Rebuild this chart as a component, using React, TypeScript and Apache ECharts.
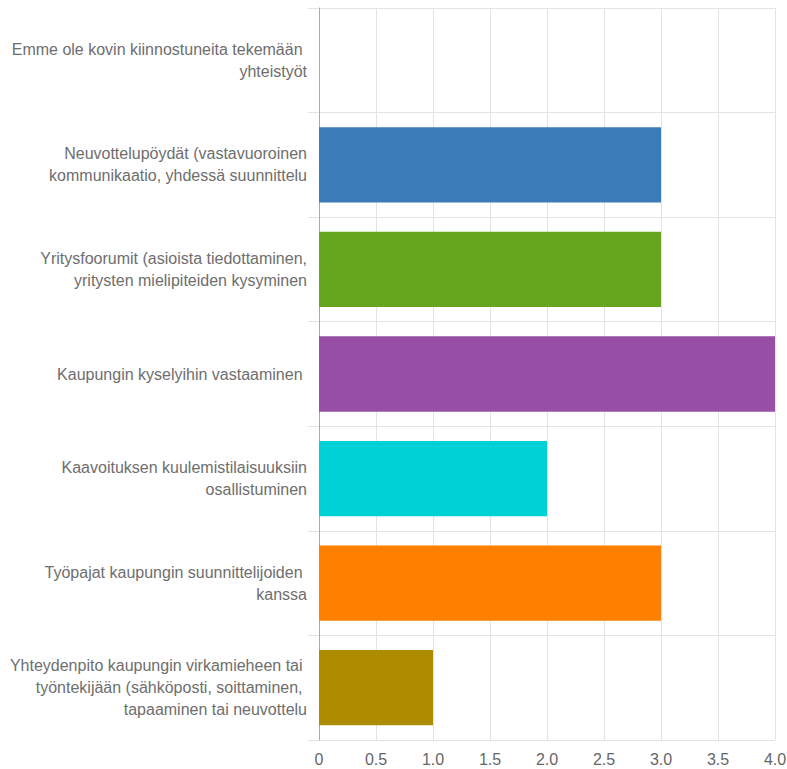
import React, { useEffect, useRef } from "react";
import * as echarts from "echarts";

const categories = [
  "Emme ole kovin kiinnostuneita tekemään \nyhteistyöt",
  "Neuvottelupöydät (vastavuoroinen\nkommunikaatio, yhdessä suunnittelu",
  "Yritysfoorumit (asioista tiedottaminen,\nyritysten mielipiteiden kysyminen",
  "Kaupungin kyselyihin vastaaminen ",
  "Kaavoituksen kuulemistilaisuuksiin\nosallistuminen",
  "Työpajat kaupungin suunnittelijoiden \nkanssa",
  "Yhteydenpito kaupungin virkamieheen tai \ntyöntekijään (sähköposti, soittaminen, \ntapaaminen tai neuvottelu",
];
const values = [0, 3, 3, 4, 2, 3, 1];
const colors = ["#3a7bb8", "#3a7bb8", "#66a61e", "#964fa4", "#00d1d5", "#ff7f00", "#ae8c00"];

const FONT = "'Liberation Sans', Arial, sans-serif";

export default function App() {
  const ref = useRef<HTMLDivElement>(null);
  useEffect(() => {
    document.body.style.margin = "0";
    const chart = echarts.init(ref.current!, null, { renderer: "svg" });
    chart.setOption({
      animation: false,
      textStyle: { fontFamily: FONT },
      grid: {
        left: 319,
        right: 12,
        top: 8,
        bottom: 29,
        containLabel: false,
        outerBoundsMode: "none",
      },
      xAxis: {
        type: "value",
        min: 0,
        max: 4,
        interval: 0.5,
        axisLine: { show: false },
        axisTick: { show: false },
        splitLine: { show: true, lineStyle: { color: "#e3e3e3", width: 1 } },
        axisLabel: {
          color: "#666",
          fontFamily: FONT,
          fontSize: 16,
          margin: 11,
          formatter: (v: number) => (v === 0 ? "0" : v.toFixed(1)),
        },
      },
      yAxis: {
        type: "category",
        inverse: true,
        data: categories,
        axisLine: { show: true, lineStyle: { color: "#aaa", width: 1 } },
        axisTick: { show: true, length: 11, lineStyle: { color: "#e3e3e3" } },
        splitLine: { show: true, lineStyle: { color: "#e3e3e3", width: 1 } },
        axisLabel: {
          color: "#6e6e6e",
          fontFamily: FONT,
          fontSize: 16,
          lineHeight: 22,
          margin: 12,
          align: "right",
        },
      },
      series: [
        {
          type: "bar",
          barWidth: "72%",
          data: values.map((v, i) => ({
            value: v,
            itemStyle: { color: colors[i] },
          })),
        },
      ],
    });
    return () => chart.dispose();
  }, []);
  return <div ref={ref} style={{ width: 787, height: 769 }} />;
}
